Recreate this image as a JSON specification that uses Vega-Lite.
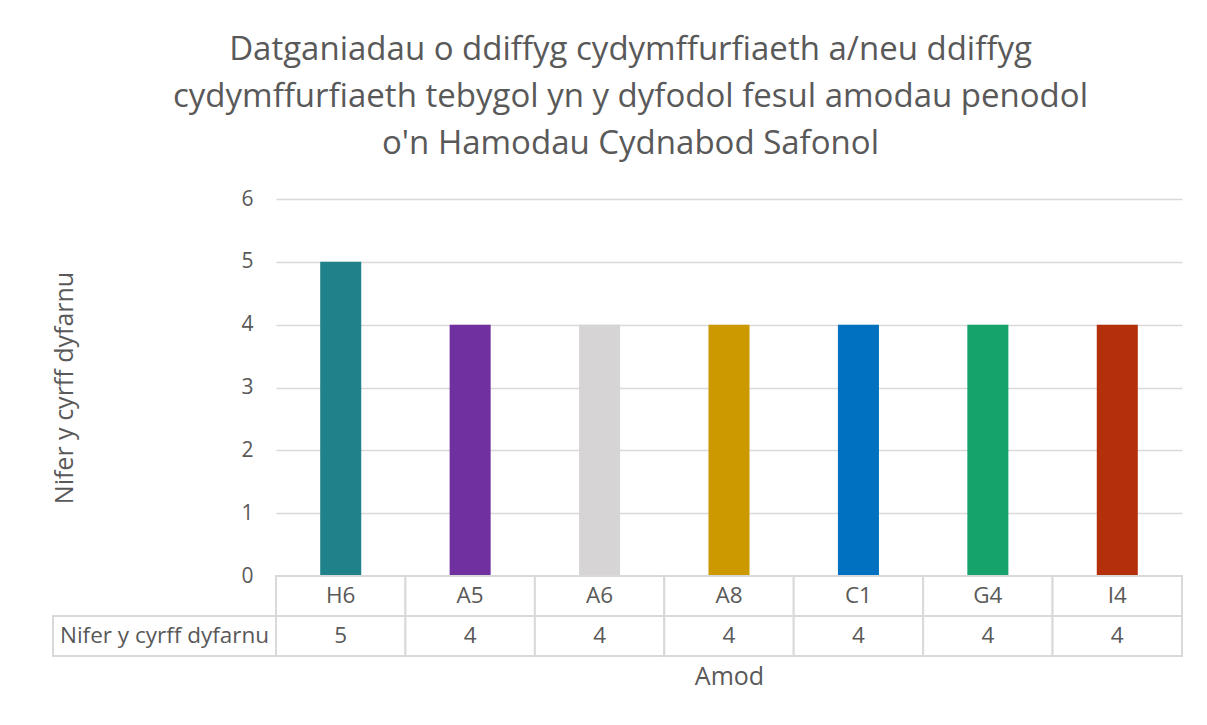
{
  "$schema": "https://vega.github.io/schema/vega-lite/v6.json",
  "padding": {"left": 52, "top": 34, "right": 10, "bottom": 10},
  "autosize": {"type": "pad"},
  "background": "white",
  "title": {
    "text": ["Datganiadau o ddiffyg cydymffurfiaeth a/neu ddiffyg", "cydymffurfiaeth tebygol yn y dyfodol fesul amodau penodol", "o'n Hamodau Cydnabod Safonol"],
    "fontSize": 33, "font": "Open Sans", "fontWeight": "normal", "color": "#595959",
    "lineHeight": 47, "anchor": "middle", "offset": 27, "dx": 13
  },
  "datasets": {
    "amodau": [
      {"amod": "H6", "nifer": 5},
      {"amod": "A5", "nifer": 4},
      {"amod": "A6", "nifer": 4},
      {"amod": "A8", "nifer": 4},
      {"amod": "C1", "nifer": 4},
      {"amod": "G4", "nifer": 4},
      {"amod": "I4", "nifer": 4}
    ]
  },
  "columns": 2,
  "spacing": 0,
  "bounds": "flush",
  "align": "each",
  "concat": [
    {
      "width": 223, "height": 377,
      "data": {"values": []},
      "mark": "text",
      "encoding": {}
    },
    {
      "width": 906, "height": 377,
      "data": {"name": "amodau"},
      "mark": {"type": "bar"},
      "encoding": {
        "x": {"field": "amod", "type": "nominal", "sort": null,
          "scale": {"domain": ["H6", "A5", "A6", "A8", "C1", "G4", "I4"], "paddingInner": 0.683, "paddingOuter": 0.3415},
          "axis": null},
        "y": {"field": "nifer", "type": "quantitative",
          "scale": {"domain": [0, 6], "nice": false},
          "axis": {"values": [0, 1, 2, 3, 4, 5, 6], "format": "d", "title": "Nifer y cyrff dyfarnu",
            "titleFontSize": 25, "titleColor": "#595959", "titleFontWeight": "normal", "titlePadding": 163,
            "labelFontSize": 21, "labelColor": "#595959", "labelPadding": 23,
            "ticks": false, "domain": false, "gridColor": "#d9d9d9", "gridWidth": 1.5}},
        "color": {"field": "amod", "type": "nominal",
          "scale": {"domain": ["H6", "A5", "A6", "A8", "C1", "G4", "I4"],
            "range": ["#1f8189", "#7030a0", "#d6d4d5", "#cc9900", "#0070c0", "#15a26b", "#b3300a"]},
          "legend": null}
      }
    },
    {
      "width": 223, "height": 80,
      "data": {"values": [{"row": "val", "label": "Nifer y cyrff dyfarnu"}]},
      "layer": [
        {
          "mark": {"type": "rect", "fill": "white", "stroke": "#d9d9d9", "strokeWidth": 2},
          "encoding": {"y": {"field": "row", "type": "nominal",
            "scale": {"domain": ["cat", "val"], "paddingInner": 0, "paddingOuter": 0}, "axis": null}}
        },
        {
          "mark": {"type": "text", "fontSize": 22.5, "color": "#595959"},
          "encoding": {"y": {"field": "row", "type": "nominal", "axis": null}, "text": {"field": "label"}}
        }
      ]
    },
    {
      "width": 906, "height": 80,
      "data": {"name": "amodau"},
      "encoding": {
        "x": {"field": "amod", "type": "nominal", "sort": null,
          "scale": {"domain": ["H6", "A5", "A6", "A8", "C1", "G4", "I4"], "paddingInner": 0, "paddingOuter": 0},
          "axis": {"title": "Amod", "labels": false, "ticks": false, "domain": false, "grid": false,
            "titleFontSize": 25, "titleColor": "#595959", "titleFontWeight": "normal", "titlePadding": 8}}
      },
      "layer": [
        {
          "mark": {"type": "rect", "fill": "white", "stroke": "#d9d9d9", "strokeWidth": 2},
          "encoding": {"y": {"datum": "cat", "type": "nominal",
            "scale": {"domain": ["cat", "val"], "paddingInner": 0, "paddingOuter": 0}, "axis": null}}
        },
        {
          "mark": {"type": "rect", "fill": "white", "stroke": "#d9d9d9", "strokeWidth": 2},
          "encoding": {"y": {"datum": "val", "type": "nominal"}}
        },
        {
          "mark": {"type": "text", "fontSize": 22.5, "color": "#595959"},
          "encoding": {"y": {"datum": "cat", "type": "nominal"}, "text": {"field": "amod"}}
        },
        {
          "mark": {"type": "text", "fontSize": 22.5, "color": "#595959"},
          "encoding": {"y": {"datum": "val", "type": "nominal"}, "text": {"field": "nifer"}}
        }
      ]
    }
  ],
  "config": {
    "view": {"stroke": null},
    "font": "Open Sans",
    "axis": {"labelFont": "Open Sans", "titleFont": "Open Sans"}
  }
}
